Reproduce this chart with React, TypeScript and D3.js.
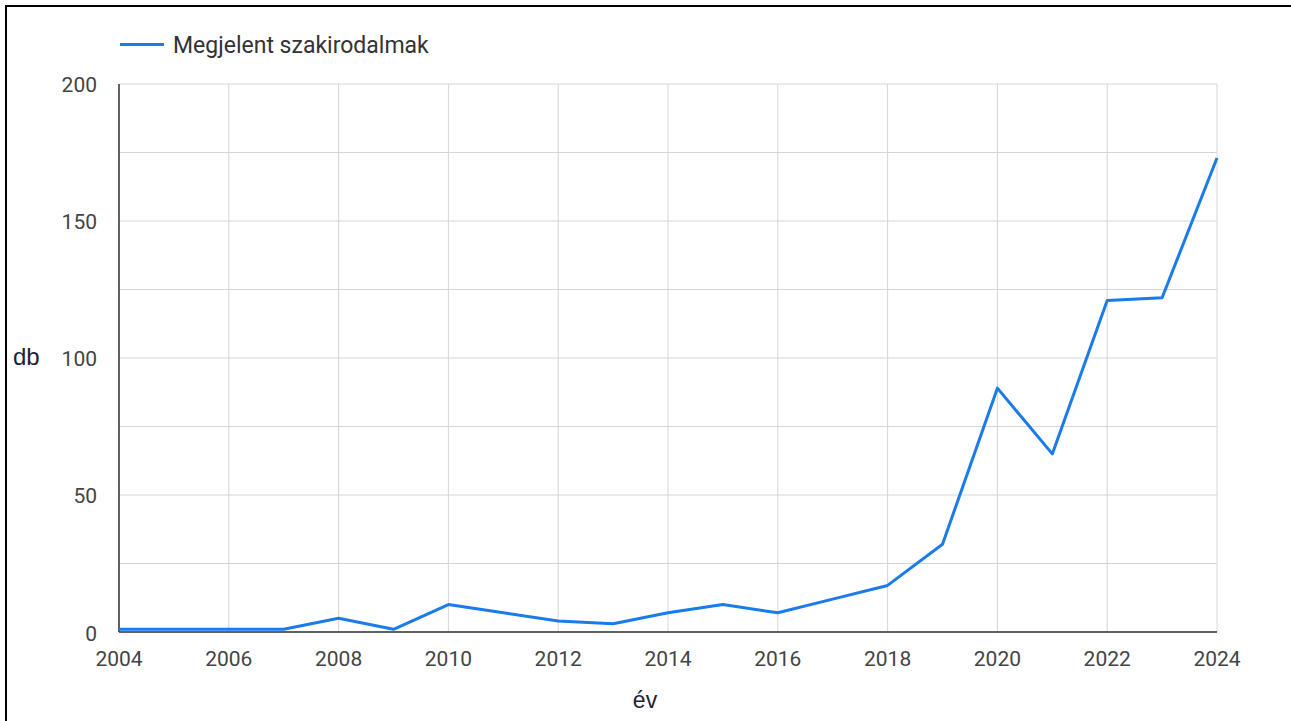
import React from "react";
import * as d3 from "d3";

const years = [2004, 2005, 2006, 2007, 2008, 2009, 2010, 2011, 2012, 2013, 2014, 2015, 2016, 2017, 2018, 2019, 2020, 2021, 2022, 2023, 2024];
const counts = [1, 1, 1, 1, 5, 1, 10, 7, 4, 3, 7, 10, 7, 12, 17, 32, 89, 65, 121, 122, 173];
const xTicks = [2004, 2006, 2008, 2010, 2012, 2014, 2016, 2018, 2020, 2022, 2024];
const yTicks = [0, 50, 100, 150, 200];
const yGrid = [0, 25, 50, 75, 100, 125, 150, 175, 200];
const seriesName = "Megjelent szakirodalmak";
const xTitle = "év";
const yTitle = "db";

export default function App() {
  const W = 1291, H = 721;
  const left = 119, right = 1217, top = 84, bottom = 632;
  const x = d3.scaleLinear().domain([2004, 2024]).range([left, right]);
  const y = d3.scaleLinear().domain([0, 200]).range([bottom, top]);
  const line = d3.line<number>().x((_, i) => x(years[i])).y((d) => y(d));
  const font = "Roboto, 'Noto Sans', sans-serif";
  const titleFont = "'Liberation Sans', Arial, sans-serif";
  const blue = "#1a7bea";
  return (
    <svg width={W} height={H} style={{ position: "absolute", left: 0, top: 0, background: "#fff" }} fontFamily={font}>
      <rect x={0} y={0} width={W} height={H} fill="#fff" />
      <rect x={6} y={6} width={W + 20} height={H + 20} fill="none" stroke="#000" strokeWidth={2} />
      {yGrid.map((t) => (
        <line key={"hy" + t} x1={left} x2={right} y1={y(t)} y2={y(t)} stroke="#d6d6d6" strokeWidth={1} />
      ))}
      {xTicks.map((t) => (
        <line key={"vx" + t} x1={x(t)} x2={x(t)} y1={top} y2={bottom} stroke="#d6d6d6" strokeWidth={1} />
      ))}
      <line x1={left} x2={left} y1={top} y2={bottom} stroke="#333" strokeWidth={1.5} />
      <line x1={left} x2={right} y1={bottom} y2={bottom} stroke="#333" strokeWidth={1.5} />
      <path d={line(counts) || ""} fill="none" stroke={blue} strokeWidth={3} strokeLinejoin="round" />
      {yTicks.map((t) => (
        <text key={"yt" + t} x={97} y={y(t) + (t === 0 ? 9 : 7.5)} textAnchor="end" fontSize={21} fill="#444">{t}</text>
      ))}
      {xTicks.map((t) => (
        <text key={"xt" + t} x={x(t)} y={666} textAnchor="middle" fontSize={21} fill="#444">{t}</text>
      ))}
      <line x1={120} x2={164} y1={44.5} y2={44.5} stroke={blue} strokeWidth={3} />
      <text x={173} y={53} fontSize={23} fill="#333">{seriesName}</text>
      <text x={13} y={365} fontSize={24} fill="#1e2233" fontFamily={titleFont}>{yTitle}</text>
      <text x={645} y={708} textAnchor="middle" fontSize={23} fill="#1e2233" fontFamily={titleFont}>{xTitle}</text>
    </svg>
  );
}
